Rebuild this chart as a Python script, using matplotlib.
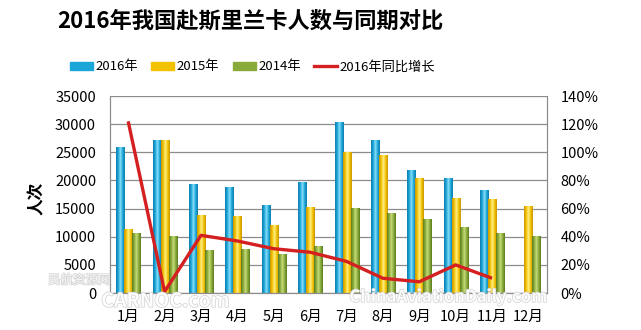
import matplotlib.pyplot as plt
import numpy as np
from matplotlib.colors import LinearSegmentedColormap
from matplotlib.patches import Patch
from matplotlib.lines import Line2D
import matplotlib.patheffects as pe

plt.rcParams['font.family'] = ['Noto Sans CJK SC', 'DejaVu Sans']

months = ['1月', '2月', '3月', '4月', '5月', '6月', '7月', '8月', '9月', '10月', '11月', '12月']
v2016 = [26000, 27100, 19300, 18800, 15700, 19800, 30400, 27200, 21800, 20400, 18300, np.nan]
v2015 = [11400, 27100, 13800, 13600, 12000, 15300, 25000, 24600, 20400, 16900, 16700, 15500]
v2014 = [10600, 10200, 7600, 7900, 7000, 8300, 15100, 14200, 13100, 11800, 10700, 10200]
growth = [122, 1, 41, 37, 31.5, 29, 22.5, 10.5, 8, 20, 10.5]  # %, 2016 vs 2015

series = [
    ('2016年', v2016, -0.22, ('#0f7eae', '#8ee0fa', '#1aa6d8')),
    ('2015年', v2015, 0.0, ('#c99500', '#fff08a', '#f2c200')),
    ('2014年', v2014, 0.22, ('#5c7a1e', '#c8dc7c', '#8aab3c')),
]
bw = 0.22

fig = plt.figure(figsize=(6.41, 3.30), dpi=100)
ax = fig.add_axes([0.1716, 0.112, 0.6812, 0.597])
x = np.arange(len(months))

grad = np.linspace(0, 1, 64).reshape(1, -1)
for name, vals, off, (dark, light, base) in series:
    cmap = LinearSegmentedColormap.from_list(name, [dark, base, light, base, dark])
    bars = ax.bar(x + off, vals, bw, color=base, linewidth=0, zorder=2)
    for b, v in zip(bars, vals):
        if np.isnan(v):
            continue
        x0 = b.get_x()
        im = ax.imshow(grad, extent=[x0, x0 + bw, 0, v], aspect='auto',
                       cmap=cmap, zorder=2.1, interpolation='bilinear')
        im.set_clip_path(b)

ax.set_xlim(-0.5, 11.5)
ax.set_ylim(0, 35000)
ax.set_yticks(np.arange(0, 35001, 5000))
ax.set_xticks(x)
ax.set_xticklabels(months)
ax.yaxis.grid(True, color='#8c8c8c', lw=0.9)
ax.set_axisbelow(True)
ax.tick_params(axis='y', length=0, pad=10, labelsize=10.5)
ax.tick_params(axis='x', length=0, pad=12, labelsize=10.5)
for s in ax.spines.values():
    s.set_color('#8c8c8c')
ax.spines['top'].set_visible(False)

ax2 = ax.twinx()
ax2.plot(x[:len(growth)], growth, color='#d42020', lw=2.4, zorder=5, solid_capstyle='butt')
ax2.set_ylim(0, 140)
ax2.set_yticks(np.arange(0, 141, 20))
ax2.set_yticklabels([f'{t}%' for t in range(0, 141, 20)])
ax2.tick_params(axis='y', length=0, pad=10, labelsize=10.5)
for s in ax2.spines.values():
    s.set_color('#8c8c8c')
ax2.spines['top'].set_visible(False)

fig.text(0.39, 0.936, '2016年我国赴斯里兰卡人数与同期对比', ha='center', va='center',
         fontsize=16, fontweight='bold')
fig.text(0.058, 0.40, '人次', rotation=90, ha='center', va='center',
         fontsize=12, fontweight='bold')

handles = [Patch(color=s[3][2]) for s in series] + [Line2D([], [], color='#d42020', lw=2.4)]
labels = [s[0] for s in series] + ['2016年同比增长']
fig.legend(handles, labels, loc='center', bbox_to_anchor=(0.394, 0.797), ncol=4,
           frameon=False, fontsize=9.5, handlelength=1.75, handleheight=0.5,
           handletextpad=0.2, columnspacing=1.0)

# site watermarks
wm = dict(color='white', alpha=0.85, zorder=10,
          path_effects=[pe.withStroke(linewidth=1.0, foreground='#cccccc')])
fig.text(0.075, 0.14, '民航资源网', fontsize=9, **wm)
fig.text(0.158, 0.07, 'CARNOC.com', fontsize=14, fontweight='bold', **wm)
fig.text(0.545, 0.085, 'ChinaAviationDaily.com', fontsize=12, fontweight='bold', **wm)

fig.savefig('out.png', dpi=100)
